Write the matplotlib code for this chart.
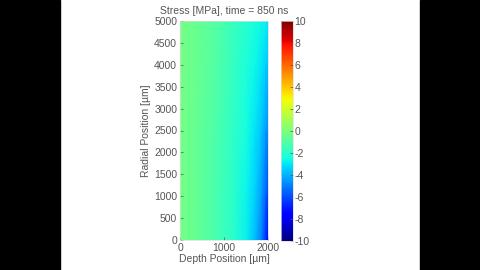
import matplotlib
matplotlib.use('Agg')
import matplotlib.pyplot as plt
import numpy as np

plt.rcParams['font.family'] = ['Liberation Sans', 'DejaVu Sans']
plt.rcParams['axes.unicode_minus'] = False

# depth / radial sample positions (um) and stress (MPa)
depth = [0, 400, 800, 1200, 1500, 1700, 1850, 1950, 2000]
radial = [0, 1000, 2500, 4000, 5000]
stress = [
    [-0.2, -0.6, -1.2, -1.9, -2.8, -3.8, -5.0, -6.6, -7.6],   # r = 0
    [-0.2, -0.6, -1.2, -1.9, -2.7, -3.4, -4.4, -5.6, -6.4],   # r = 1000
    [-0.2, -0.6, -1.1, -1.8, -2.5, -3.0, -3.6, -4.4, -4.9],   # r = 2500
    [-0.2, -0.5, -1.0, -1.7, -2.3, -2.6, -3.0, -3.4, -3.7],   # r = 4000
    [-0.2, -0.5, -1.0, -1.6, -2.1, -2.4, -2.6, -2.8, -3.0],   # r = 5000
]
yticks = np.arange(0, 5001, 500)
xticks = [0, 1000, 2000]
cticks = np.arange(-10, 11, 2)

fig = plt.figure(figsize=(4.8, 2.7), dpi=100)
fig.patch.set_facecolor('white')
# black side bars
fig.add_artist(plt.Rectangle((0, 0), 60 / 480, 1, transform=fig.transFigure, color='black'))
fig.add_artist(plt.Rectangle((420 / 480, 0), 60 / 480, 1, transform=fig.transFigure, color='black'))

gray = '#555555'
ax = fig.add_axes([180 / 480, 1 - 240 / 270, 88 / 480, 219 / 270])
X, Y = np.meshgrid(depth, radial)
m = ax.pcolormesh(X, Y, np.array(stress), cmap='jet', vmin=-10, vmax=10, shading='gouraud')
ax.set_xlim(0, 2000)
ax.set_ylim(0, 5000)
ax.set_xticks(xticks)
ax.set_yticks(yticks)
ax.tick_params(labelsize=7.5, colors=gray, direction='in', length=2, width=0.5, pad=2)
for s in ax.spines.values():
    s.set_color('#dddddd')
    s.set_linewidth(0.5)
ax.set_xlabel('Depth Position [\u00b5m]', fontsize=7.5, color=gray, labelpad=1)
ax.set_ylabel('Radial Position [\u00b5m]', fontsize=7.5, color=gray, labelpad=2)
ax.set_title('Stress [MPa], time = 850 ns', fontsize=7.5, color=gray, pad=5)

cax = fig.add_axes([281 / 480, 1 - 241 / 270, 12 / 480, 220 / 270])
cb = fig.colorbar(m, cax=cax, ticks=cticks)
cb.ax.tick_params(labelsize=7.5, colors=gray, direction='in', length=2, width=0.5, pad=1)
cb.outline.set_edgecolor('#dddddd')
cb.outline.set_linewidth(0.5)

fig.savefig('out.png', dpi=100)
